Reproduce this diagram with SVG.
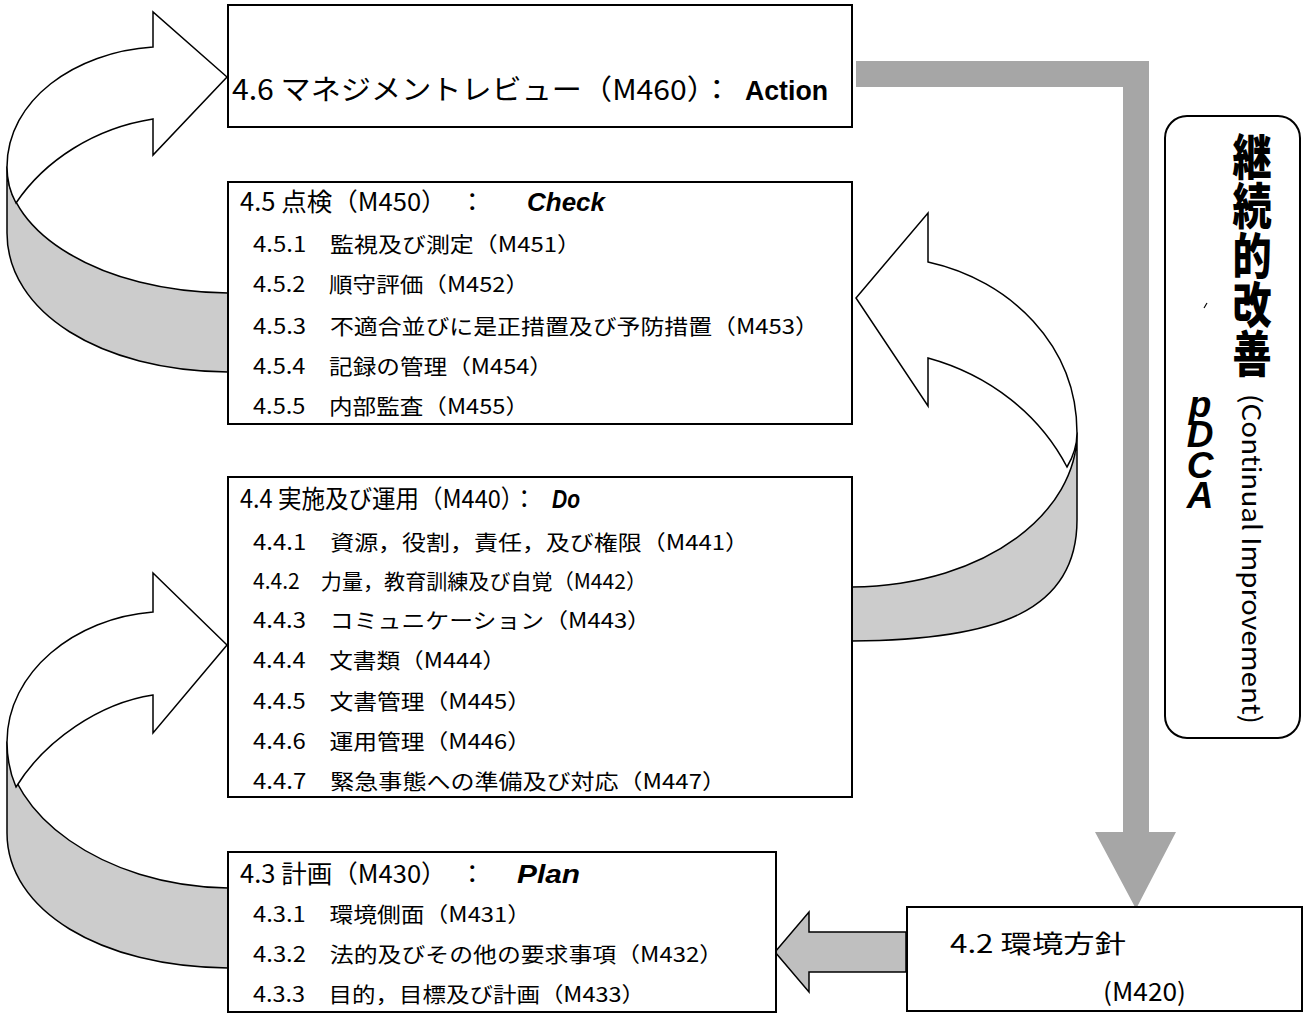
<svg xmlns="http://www.w3.org/2000/svg" width="1303" height="1018" viewBox="0 0 1303 1018">
<style>
.box{fill:#fff;stroke:#000;stroke-width:2}
.jp{font-family:"Noto Sans CJK JP","Noto Sans CJK SC",sans-serif;fill:#000}
.h{font-size:25px}
.s{font-size:21px}
.en{font-family:"Liberation Sans",Arial,sans-serif;font-weight:bold;font-style:italic;fill:#000}
.up{font-style:normal}
.band{fill:#cccccc;stroke:#000;stroke-width:1.5;stroke-linejoin:round}
.curl{fill:#fff;stroke:#000;stroke-width:1.5;stroke-linejoin:miter}
</style>
<rect width="1303" height="1018" fill="#fff"/>
<g id="connectors">
  <path id="c-act-to-plan" d="M856,61 L1149,61 L1149,832 L1176,832 L1136,909 L1095,832 L1123,832 L1123,87 L856,87 Z" fill="#a6a6a6"/>
  <path id="c-policy-to-plan" d="M906,932 L809,932 L809,912 L775,952 L809,992 L809,972 L906,972 Z" fill="#bfbfbf" stroke="#000" stroke-width="1.5"/>
  <g id="c-check-to-act">
    <path class="band" d="M7,167 C7,232 100,292 228,293 L228,372 C100,371 7,312 7,233 Z"/>
    <path class="curl" d="M227,77 L153,12 L153,47 C75,52 7,100 7,167 C7,180 10,192 16,203 C45,160 95,128 153,119 L153,155 Z"/>
  </g>
  <g id="c-do-to-check">
    <path class="band" d="M1077,433 C1077,510 990,585 852,587 L852,641 C1000,640 1077,610 1077,520 Z"/>
    <path class="curl" d="M856,298 L928,213 L928,262 C1010,280 1077,345 1077,433 C1077,445 1073,457 1067,467 C1040,415 990,375 928,358 L928,406 Z"/>
  </g>
  <g id="c-plan-to-do">
    <path class="band" d="M7,742 C7,812 100,886 228,888 L228,968 C100,967 7,910 7,833 Z"/>
    <path class="curl" d="M227,645 L153,573 L153,612 C75,618 7,672 7,742 C7,757 10,773 16,787 C45,740 100,703 153,695 L153,733 Z"/>
  </g>
</g>
<g id="n46">
  <rect class="box" x="228" y="5" width="624" height="122"/>
  <text class="jp" x="232" y="100" font-size="28" textLength="500" lengthAdjust="spacingAndGlyphs">4.6 マネジメントレビュー（M460）：</text>
  <text class="en up" x="745" y="100" font-size="28" textLength="83" lengthAdjust="spacingAndGlyphs">Action</text>
</g>
<g id="n45">
  <rect class="box" x="228" y="182" width="624" height="242"/>
  <text class="jp h" x="240" y="211" textLength="245" lengthAdjust="spacingAndGlyphs">4.5 点検（M450）　：</text>
  <text class="en" x="527" y="211" font-size="26" textLength="78" lengthAdjust="spacingAndGlyphs">Check</text>
  <text class="jp s" x="253" y="252" textLength="328" lengthAdjust="spacingAndGlyphs">4.5.1　監視及び測定（M451）</text>
  <text class="jp s" x="253" y="292" textLength="276" lengthAdjust="spacingAndGlyphs">4.5.2　順守評価（M452）</text>
  <text class="jp s" x="253" y="334" textLength="566" lengthAdjust="spacingAndGlyphs">4.5.3　不適合並びに是正措置及び予防措置（M453）</text>
  <text class="jp s" x="253" y="374" textLength="300" lengthAdjust="spacingAndGlyphs">4.5.4　記録の管理（M454）</text>
  <text class="jp s" x="253" y="414" textLength="276" lengthAdjust="spacingAndGlyphs">4.5.5　内部監査（M455）</text>
</g>
<g id="n44">
  <rect class="box" x="228" y="477" width="624" height="320"/>
  <text class="jp h" x="240" y="508" textLength="296" lengthAdjust="spacingAndGlyphs">4.4 実施及び運用（M440）：</text>
  <text class="en" x="552" y="508" font-size="26" textLength="28" lengthAdjust="spacingAndGlyphs">Do</text>
  <text class="jp s" x="253" y="550" textLength="496" lengthAdjust="spacingAndGlyphs">4.4.1　資源，役割，責任，及び権限（M441）</text>
  <text class="jp s" x="253" y="589" textLength="394" lengthAdjust="spacingAndGlyphs">4.4.2　力量，教育訓練及び自覚（M442）</text>
  <text class="jp s" x="253" y="628" textLength="398" lengthAdjust="spacingAndGlyphs">4.4.3　コミュニケーション（M443）</text>
  <text class="jp s" x="253" y="668" textLength="253" lengthAdjust="spacingAndGlyphs">4.4.4　文書類（M444）</text>
  <text class="jp s" x="253" y="709" textLength="278" lengthAdjust="spacingAndGlyphs">4.4.5　文書管理（M445）</text>
  <text class="jp s" x="253" y="749" textLength="278" lengthAdjust="spacingAndGlyphs">4.4.6　運用管理（M446）</text>
  <text class="jp s" x="253" y="789" textLength="473" lengthAdjust="spacingAndGlyphs">4.4.7　緊急事態への準備及び対応（M447）</text>
</g>
<g id="n43">
  <rect class="box" x="228" y="852" width="548" height="160"/>
  <text class="jp h" x="240" y="883" textLength="245" lengthAdjust="spacingAndGlyphs">4.3 計画（M430）　：</text>
  <text class="en" x="517" y="883" font-size="26" textLength="63" lengthAdjust="spacingAndGlyphs">Plan</text>
  <text class="jp s" x="253" y="922" textLength="278" lengthAdjust="spacingAndGlyphs">4.3.1　環境側面（M431）</text>
  <text class="jp s" x="253" y="962" textLength="470" lengthAdjust="spacingAndGlyphs">4.3.2　法的及びその他の要求事項（M432）</text>
  <text class="jp s" x="253" y="1002" textLength="392" lengthAdjust="spacingAndGlyphs">4.3.3　目的，目標及び計画（M433）</text>
</g>
<g id="n42">
  <rect class="box" x="907" y="907" width="395" height="104"/>
  <text class="jp" x="950" y="953" font-size="25" textLength="176" lengthAdjust="spacingAndGlyphs">4.2 環境方針</text>
  <text class="jp" x="1103" y="1001" font-size="25" textLength="83" lengthAdjust="spacingAndGlyphs">(M420)</text>
</g>
<g id="pdca">
  <rect x="1165" y="116" width="135" height="622" rx="22" ry="22" fill="#fff" stroke="#000" stroke-width="2"/>
  <g transform="translate(1252,0) scale(0.85,1)">
    <text class="jp" x="0" y="132" writing-mode="vertical-rl" font-size="46" font-weight="900" textLength="246" lengthAdjust="spacingAndGlyphs">継続的改善</text>
  </g>
  <path d="M1204,308 L1207,303" stroke="#000" stroke-width="1.2" fill="none"/>
  <text class="en" x="1200" y="384" writing-mode="vertical-rl" style="text-orientation:upright" font-size="37" font-weight="900" textLength="132" lengthAdjust="spacing">pDCA</text>
  <text class="jp" transform="translate(1242,394) rotate(90)" x="0" y="0" font-size="26" textLength="330" lengthAdjust="spacingAndGlyphs">(Continual Improvement)</text>
</g>
</svg>
